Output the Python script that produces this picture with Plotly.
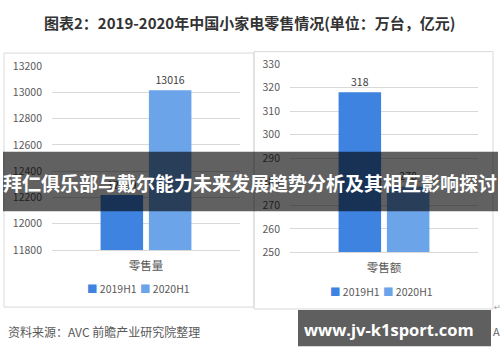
import plotly.graph_objects as go

W, H = 500, 362

series_names = ["2019H1", "2020H1"]
series_colors = ["#3E83DF", "#6CA4EA"]

left_category = ["零售量"]
left_values = [12220, 13016]      # 万台
left_ticks = [11800, 12000, 12200, 12400, 12600, 12800, 13000, 13200]

right_category = ["零售额"]
right_values = [318, 278]         # 亿元
right_ticks = [250, 260, 270, 280, 290, 300, 310, 320, 330]

title_text = "图表2：2019-2020年中国小家电零售情况(单位：万台，亿元)"
banner_text = "拜仁俱乐部与戴尔能力未来发展趋势分析及其相互影响探讨"
source_text = "资料来源：AVC 前瞻产业研究院整理"
site_text = "www.jv-k1sport.com"

FONT = "Noto Sans CJK SC, Noto Sans, sans-serif"


def px(x):
    return x / W


def py(y):
    return 1 - y / H


fig = go.Figure()

for i, name in enumerate(series_names):
    fig.add_trace(go.Bar(
        x=left_category, y=[left_values[i]], name=name,
        marker=dict(color=series_colors[i], line=dict(width=0)),
        text=[str(left_values[i])], textposition="outside",
        textfont=dict(size=10.5, color="#404040", family=FONT),
        cliponaxis=False, showlegend=False,
        xaxis="x", yaxis="y",
    ))
    fig.add_trace(go.Bar(
        x=right_category, y=[right_values[i]], name=name,
        marker=dict(color=series_colors[i], line=dict(width=0)),
        text=[str(right_values[i])], textposition="outside",
        textfont=dict(size=10.5, color="#404040", family=FONT),
        cliponaxis=False, showlegend=False,
        xaxis="x2", yaxis="y2",
    ))

common_y = dict(showgrid=True, gridcolor="#d9d9d9", gridwidth=1, zeroline=False,
                showline=False, ticks="", tickformat="d",
                tickfont=dict(size=10.5, color="#595959", family=FONT),
                ticklabelstandoff=9)
common_x = dict(type="category", showline=True, linecolor="#d9d9d9", linewidth=1,
                ticks="", showgrid=False, tickfont=dict(size=11.5, color="#595959", family=FONT),
                ticklabelstandoff=5)

fig.update_layout(
    width=W, height=H,
    margin=dict(l=0, r=0, t=0, b=0),
    paper_bgcolor="white", plot_bgcolor="white",
    barmode="group", bargap=0.486, bargroupgap=0.12,
    showlegend=False,
    font=dict(family=FONT),
    xaxis=dict(domain=[px(52), px(240)], anchor="y", **common_x),
    yaxis=dict(domain=[py(252.5), py(60.7)], anchor="x", range=[11800, 13200],
               tickvals=left_ticks, **common_y),
    xaxis2=dict(domain=[px(290), px(478)], anchor="y2", **common_x),
    yaxis2=dict(domain=[py(255), py(58.3)], anchor="x2", range=[250, 330],
                tickvals=right_ticks, **common_y),
)

shapes = [
    # panel frames
    dict(type="rect", xref="paper", yref="paper", x0=px(4), x1=px(254), y0=py(312), y1=py(47),
         line=dict(color="#d9d9d9", width=1), fillcolor="rgba(0,0,0,0)", layer="below"),
    dict(type="rect", xref="paper", yref="paper", x0=px(254), x1=px(493), y0=py(314), y1=py(45.5),
         line=dict(color="#d9d9d9", width=1), fillcolor="rgba(0,0,0,0)", layer="below"),
    # overlay banner
    dict(type="rect", xref="paper", yref="paper", x0=px(3), x1=px(498), y0=py(212), y1=py(150),
         line=dict(width=0), fillcolor="rgba(0,0,0,0.62)", layer="above"),
    # site box
    dict(type="rect", xref="paper", yref="paper", x0=px(298), x1=px(491), y0=py(353), y1=py(315),
         line=dict(width=0), fillcolor="#5f5f5f", layer="above"),
]
fig.update_layout(shapes=shapes)

annotations = [
    dict(text="<b>" + title_text + "</b>", x=px(250), y=py(15), xref="paper", yref="paper",
         showarrow=False, xanchor="center", yanchor="middle",
         font=dict(size=15, color="#333333", family=FONT)),
    dict(text=source_text, x=px(6), y=py(337), xref="paper", yref="paper",
         showarrow=False, xanchor="left", yanchor="middle",
         font=dict(size=12, color="#595959", family=FONT)),
    dict(text="APP", x=px(491), y=py(337), xref="paper", yref="paper",
         showarrow=False, xanchor="left", yanchor="middle",
         font=dict(size=11, color="#666666", family=FONT)),
    dict(text="↵", x=px(497), y=py(311), xref="paper", yref="paper",
         showarrow=False, xanchor="center", yanchor="middle",
         font=dict(size=8, color="#999999", family=FONT)),
]

# faint watermarks
for (wx, wy) in [(150, 130), (420, 130), (110, 300), (420, 300)]:
    annotations.append(dict(text="前瞻产业研究院", x=px(wx), y=py(wy), xref="paper", yref="paper",
                            showarrow=False, textangle=-30,
                            font=dict(size=22, color="rgba(0,0,0,0.025)", family=FONT)))

# legends (as text rows)
legend_rows = [(85, 293), (328, 296)]
for lx, ly in legend_rows:
    x = lx
    for name, col in zip(series_names, series_colors):
        annotations.append(dict(
            text=f"<span style='color:{col}'>■</span> {name}",
            x=px(x), y=py(ly), xref="paper", yref="paper", showarrow=False,
            xanchor="left", yanchor="middle",
            font=dict(size=10.5, color="#595959", family=FONT)))
        x += 53

annotations.append(dict(text="<b>" + banner_text + "</b>", x=px(250), y=py(182), xref="paper", yref="paper",
                        showarrow=False, xanchor="center", yanchor="middle",
                        font=dict(size=19, color="white", family=FONT)))
annotations.append(dict(text="<b>" + site_text + "</b>", x=px(389), y=py(335), xref="paper", yref="paper",
                        showarrow=False, xanchor="center", yanchor="middle",
                        font=dict(size=16.5, color="white", family="Open Sans, DejaVu Sans, sans-serif")))

fig.update_layout(annotations=annotations)

fig.write_html("out.html")
